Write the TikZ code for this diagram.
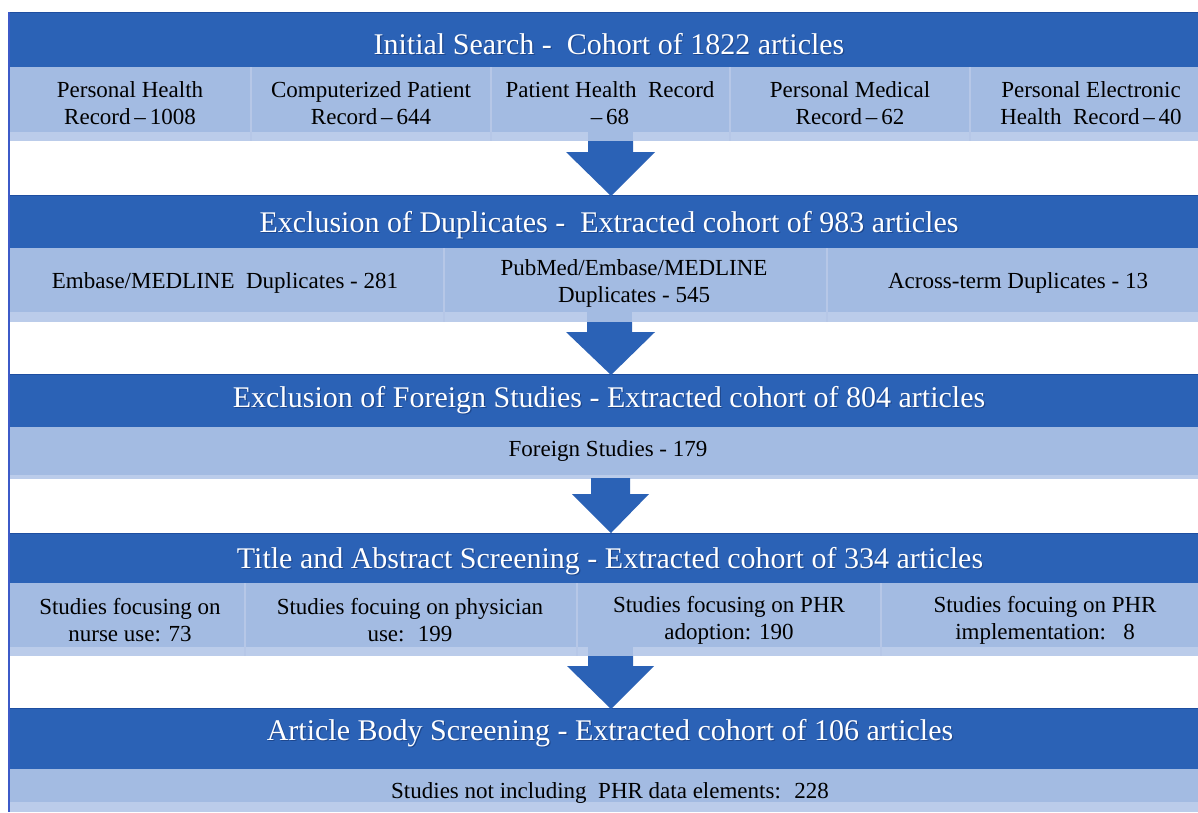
\documentclass[tikz,border=0pt]{standalone}
\usepackage{fontspec}
\setmainfont{Liberation Serif}
\definecolor{barblue}{RGB}{43,98,182}
\definecolor{baredge}{RGB}{30,78,160}
\definecolor{rowblue}{RGB}{163,187,226}
\definecolor{stripblue}{RGB}{187,204,234}
\definecolor{sepblue}{RGB}{182,199,231}
\definecolor{edgeblue}{RGB}{60,90,200}
\definecolor{shadowblue}{RGB}{20,50,110}
\tikzset{
  bar/.style={fill=barblue},
  baredgeline/.style={draw=baredge, line width=1pt},
  rowfill/.style={fill=rowblue},
  stripfill/.style={fill=stripblue},
  sepline/.style={draw=sepblue, line width=1.5pt},
  titletext/.style={text=white, font=\fontsize{30}{34}\selectfont, inner sep=0pt, anchor=center},
  titleshadow/.style={text=shadowblue, opacity=0.55, font=\fontsize{30}{34}\selectfont, inner sep=0pt, anchor=center},
  celltext/.style={text=black, font=\fontsize{23}{27}\selectfont, align=center, inner sep=0pt, anchor=center},
  blockarrow/.style={fill=barblue},
}
\newcommand\mytitle[4]{%
  \node[titleshadow] (#1s) at (#2+1.2,#3+1.2) {#4};
  \node[titletext] (#1) at (#2,#3) {#4};}
\begin{document}
\begin{tikzpicture}[x=1pt,y=-1pt]
\useasboundingbox (0,0) rectangle (1198,812);
\clip (0,0) rectangle (1198,812);
\fill[white] (0,0) rectangle (1198,812);

% ---------- Section 1 ----------
\path[bar] (10,12) rectangle (1210,67);
\draw[baredgeline] (10,12.5) -- (1210,12.5);
\path[rowfill] (10,67) rectangle (1210,132);
\path[stripfill] (10,132) rectangle (1210,141);
\foreach \x in {251,491,730,970} \draw[sepline] (\x,67) -- (\x,141);
\mytitle{t1}{609}{44}{Initial Search -~ Cohort of 1822 articles}
\node[celltext] (c11) at (130,103) {Personal Health\\Record\,–\,1008};
\node[celltext] (c12) at (371,103) {Computerized Patient\\Record\,–\,644};
\node[celltext] (c13) at (610,103) {Patient Health~ Record\\–\,68};
\node[celltext] (c14) at (850,103) {Personal Medical\\Record\,–\,62};
\node[celltext] (c15) at (1091,103) {Personal Electronic\\Health~ Record\,–\,40};

% ---------- Section 2 ----------
\path[bar] (10,195) rectangle (1210,248);
\draw[baredgeline] (10,195.5) -- (1210,195.5);
\path[rowfill] (10,248) rectangle (1210,312);
\path[stripfill] (10,312) rectangle (1210,322);
\foreach \x in {444,827} \draw[sepline] (\x,248) -- (\x,322);
\mytitle{t2}{609}{225}{Exclusion of Duplicates -~ Extracted cohort of 983 articles}
\node[celltext] (c21) at (225,283) {Embase/MEDLINE~ Duplicates - 281};
\node[celltext] (c22) at (634,283) {PubMed/Embase/MEDLINE\\Duplicates - 545};
\node[celltext] (c23) at (1018,283) {Across-term Duplicates - 13};

% ---------- Section 3 ----------
\path[bar] (10,374) rectangle (1210,427);
\draw[baredgeline] (10,374.5) -- (1210,374.5);
\path[rowfill] (10,427) rectangle (1210,475);
\path[stripfill] (10,475) rectangle (1210,479);
\mytitle{t3}{609}{400}{Exclusion of Foreign Studies - Extracted cohort of 804 articles}
\node[celltext] (c31) at (608,451) {Foreign Studies - 179};

% ---------- Section 4 ----------
\path[bar] (10,533) rectangle (1210,583);
\draw[baredgeline] (10,533.5) -- (1210,533.5);
\path[rowfill] (10,583) rectangle (1210,647);
\path[stripfill] (10,647) rectangle (1210,656);
\foreach \x in {245,577,881} \draw[sepline] (\x,583) -- (\x,656);
\mytitle{t4}{610}{561}{Title and Abstract Screening - Extracted cohort of 334 articles}
\node[celltext] (c41) at (130,620) {Studies focusing on\\nurse use: 73};
\node[celltext] (c42) at (410,620) {Studies focuing on physician\\use:~ 199};
\node[celltext] (c43) at (729,620) {Studies focusing on PHR\\adoption: 190};
\node[celltext] (c44) at (1045,620) {Studies focuing on PHR\\implementation:~~~8};

% ---------- Section 5 ----------
\path[bar] (10,708) rectangle (1210,769);
\draw[baredgeline] (10,708.5) -- (1210,708.5);
\path[rowfill] (10,769) rectangle (1210,802);
\path[stripfill] (10,802) rectangle (1210,812);
\mytitle{t5}{610}{733}{Article Body Screening - Extracted cohort of 106 articles}
\node[celltext] (c51) at (610,793) {Studies not including~ PHR data elements:~ 228};

% ---------- block arrows ----------
\path[rowfill] (588,132) rectangle (633,141);
\path[blockarrow] (588,141) -- (633,141) -- (633,152) -- (655,152) -- (611,196) -- (566,152) -- (588,152) -- cycle;
\path[rowfill] (587,312) rectangle (632,322);
\path[blockarrow] (587,322) -- (632,322) -- (632,332) -- (655,332) -- (611,375) -- (566,332) -- (587,332) -- cycle;
\path[blockarrow] (591,478) -- (630,478) -- (630,494) -- (649,494) -- (611,533) -- (572,494) -- (591,494) -- cycle;
\path[rowfill] (588,647) rectangle (633,656);
\path[blockarrow] (588,656) -- (633,656) -- (633,666) -- (654,666) -- (611,709) -- (567,666) -- (588,666) -- cycle;

% ---------- left edge ----------
\draw[edgeblue, line width=2pt] (9,12) -- (9,812);
\end{tikzpicture}
\end{document}
